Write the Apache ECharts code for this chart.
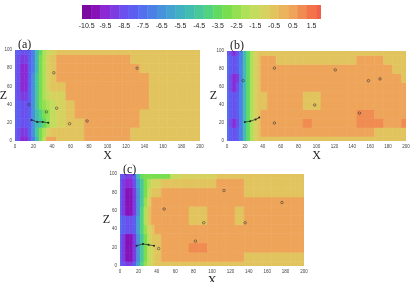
<!DOCTYPE html>
<html><head><meta charset="utf-8">
<script src="https://cdn.jsdelivr.net/npm/echarts@6/dist/echarts.min.js"></script>
<style>html,body{margin:0;padding:0;background:#fff}#c{width:410px;height:282px}</style>
</head><body><div id="c"></div>
<script>
// ---- data ----
const xCols = [0,4,8,12,16,20,24,28,32,36,40,50,60,70,80,90,100,110,120,130,140,150,160,170,180,190,200];
const zRows = [0,10,20,30,40,50,60,70,80,90,100];
const levelCenters = [-10.5,-10,-9.5,-9,-8.5,-8,-7.5,-7,-6.5,-6,-5.5,-5,-4.5,-4,-3.5,-3,-2.5,-2,-1.5,-1,-0.5,0,0.5,1,1.5,2];
const levelColors = ['#7a0aa0','#8612b8','#8c28d4','#7c3ce0','#6a50ee','#5c5ef2','#5470ee','#4d80e6','#4892dc','#44a2d0','#40b0c2','#42bcb0','#48c89a','#52d280','#62da62','#78de50','#94e052','#aee058','#c4dc5e','#d6d260','#e2c45e','#eab45c','#eea55a','#f08c52','#f27448','#f2604a'];
const colorbarTicks = [-10.5,-9.5,-8.5,-7.5,-6.5,-5.5,-4.5,-3.5,-2.5,-1.5,-0.5,0.5,1.5];

const fieldA = [
 [-8,-8.5,-9.5,-9.5,-8.5,-7,-5,-3,-1.5,0.5,0.5,-0.5,-0.5,-0.5,0.5,0.5,0.5,0.5,0.5,-0.5,-0.5,-0.5,-0.5,-0.5,-0.5,-0.5,-0.5],
 [-8,-8.5,-9,-9,-8,-6.5,-4.5,-3,-2,-1,-0.5,-0.5,-0.5,-0.5,0.5,0.5,0.5,0.5,0.5,-0.5,-0.5,-0.5,-0.5,-0.5,-0.5,-0.5,-0.5],
 [-8,-8,-8.5,-8.5,-8,-6.5,-5,-4.5,-3.5,-2.5,-1.5,-1,-0.5,-0.5,0.5,0.5,0.5,0.5,0.5,0.5,-0.5,-0.5,-0.5,-0.5,-0.5,-0.5,-0.5],
 [-8,-8,-8.5,-8.5,-8,-6.5,-5,-4,-3,-2.5,-1.5,-1,-0.5,0.5,0.5,0.5,0.5,0.5,0.5,0.5,-0.5,-0.5,-0.5,-0.5,-0.5,-0.5,-0.5],
 [-8,-8,-8.5,-8.5,-8,-6.5,-4.5,-3,-2.5,-2,-1.5,-1,-0.5,0.5,0.5,0.5,0.5,0.5,0.5,0.5,0.5,-0.5,-0.5,-0.5,-0.5,-0.5,-0.5],
 [-8,-8.5,-9,-9,-8,-6.5,-4.5,-3,-2,-1.5,-1,-1,0.5,0.5,0.5,0.5,0.5,0.5,0.5,0.5,0.5,-0.5,-0.5,-0.5,-0.5,-0.5,-0.5],
 [-8,-8.5,-9.5,-9.5,-8,-6.5,-4.5,-3,-2,-1,-0.5,-0.5,0.5,0.5,0.5,0.5,0.5,0.5,0.5,0.5,0.5,-0.5,-0.5,-0.5,-0.5,-0.5,-0.5],
 [-8,-8.5,-9.5,-9.5,-8,-6.5,-4.5,-3,-2,-1,-0.5,0.5,0.5,0.5,0.5,0.5,0.5,0.5,0.5,0.5,0.5,-0.5,-0.5,-0.5,-0.5,-0.5,-0.5],
 [-8,-8.5,-9.5,-9.5,-8,-7,-5,-3,-2,-1,-0.5,0.5,0.5,0.5,0.5,0.5,0.5,0.5,0.5,0.5,-0.5,-0.5,-0.5,-0.5,-0.5,-0.5,-0.5],
 [-8,-8.5,-9,-9,-8,-7,-5,-3,-2,-1,-0.5,0.5,0.5,0.5,0.5,0.5,0.5,0.5,0.5,-0.5,-0.5,-0.5,-0.5,-0.5,-0.5,-0.5,-0.5],
 [-8,-8,-8.5,-8.5,-8,-7,-5,-3.5,-2,-1.5,-1,-0.5,-0.5,-0.5,-0.5,-0.5,-0.5,-0.5,-0.5,-0.5,-0.5,-0.5,-0.5,-0.5,-0.5,-0.5,-0.5]
];
const fieldB = [
 [-7.5,-8,-8.5,-8,-7,-5,-3.5,-2,-1,-0.5,-0.5,-0.5,-0.5,-0.5,-0.5,-0.5,-0.5,-0.5,-0.5,-0.5,-0.5,-0.5,-0.5,-0.5,-0.5,-0.5,-0.5],
 [-7.5,-8,-8.5,-8,-7,-5,-3.5,-2,-1,-0.5,0.5,0.5,0.5,0.5,0.5,0.5,0.5,0.5,0.5,0.5,0.5,0.5,0.5,-0.5,-0.5,-0.5,-0.5],
 [-7.5,-8.5,-9.5,-8.5,-7,-5,-3.5,-2,-1,-0.5,0.5,0.5,0.5,0.5,0.5,1,0.5,0.5,0.5,0.5,0.5,1,1,1,0.5,0.5,1],
 [-7.5,-8,-8.5,-8,-7,-5,-3.5,-2,-1,-0.5,0.5,0.5,0.5,0.5,0.5,0.5,0.5,0.5,0.5,0.5,0.5,1,1,0.5,0.5,0.5,0.5],
 [-7.5,-8,-8.5,-8,-7,-5,-3.5,-2,-1,-0.5,-0.5,0.5,0.5,0.5,0.5,-0.5,-0.5,0.5,0.5,0.5,0.5,0.5,0.5,0.5,0.5,0.5,0.5],
 [-7.5,-8,-8.5,-8,-7,-5,-3.5,-2,-1,-0.5,-0.5,0.5,0.5,0.5,0.5,-0.5,-0.5,0.5,0.5,0.5,0.5,0.5,0.5,0.5,0.5,0.5,0.5],
 [-7.5,-8.5,-9.5,-8.5,-7,-5,-3.5,-2,-1,-0.5,0.5,0.5,0.5,0.5,0.5,0.5,0.5,0.5,0.5,0.5,0.5,0.5,0.5,0.5,0.5,0.5,0.5],
 [-7.5,-8.5,-9.5,-9,-7,-5,-3.5,-2,-1,-0.5,0.5,0.5,0.5,0.5,0.5,0.5,0.5,0.5,0.5,0.5,0.5,0.5,0.5,0.5,0.5,0.5,-0.5],
 [-7.5,-8,-8.5,-8,-7,-5,-3.5,-2,-1,-0.5,0.5,0.5,0.5,0.5,0.5,0.5,0.5,0.5,0.5,0.5,0.5,0.5,0.5,0.5,0.5,-0.5,-0.5],
 [-7.5,-8,-8.5,-8,-7,-5,-3.5,-2,-1,-0.5,0.5,0.5,-0.5,-0.5,-0.5,-0.5,-0.5,-0.5,-0.5,-0.5,-0.5,0.5,0.5,0.5,-0.5,-0.5,-0.5],
 [-8,-8.5,-9.5,-8.5,-7,-5,-3.5,-2,-1,-0.5,-0.5,-0.5,-0.5,-0.5,-0.5,-0.5,-0.5,-0.5,-0.5,-0.5,-0.5,-0.5,-0.5,-0.5,-0.5,-0.5,-0.5]
];
const fieldC = [
 [-8,-8.5,-9,-9,-8,-6,-4,-2.5,-1.5,-1,-0.5,-0.5,-0.5,-0.5,-0.5,-0.5,-0.5,-0.5,-0.5,-0.5,-0.5,-0.5,-0.5,-0.5,-0.5,-0.5,-0.5],
 [-8,-9,-10,-10,-9,-6.5,-4.5,-3,-1.5,-1,-0.5,0.5,0.5,0.5,0.5,0.5,0.5,0.5,0.5,0.5,-0.5,-0.5,-0.5,-0.5,-0.5,-0.5,-0.5],
 [-8,-9,-10,-10,-9,-6.5,-4.5,-3,-1.5,-1,-0.5,0.5,0.5,0.5,1,1,0.5,0.5,0.5,0.5,0.5,0.5,0.5,0.5,0.5,0.5,0.5],
 [-8,-9,-10,-10,-9,-6.5,-4.5,-3,-1.5,-0.5,-0.5,0.5,0.5,0.5,0.5,0.5,0.5,0.5,0.5,0.5,0.5,0.5,0.5,0.5,0.5,0.5,0.5],
 [-7.5,-8,-8.5,-8.5,-8,-6,-4,-2.5,-1,-0.5,0.5,0.5,0.5,0.5,0.5,0.5,0.5,0.5,0.5,0.5,0.5,0.5,0.5,0.5,0.5,0.5,0.5],
 [-7.5,-8,-8.5,-8.5,-8,-6,-4,-2,-0.5,0.5,0.5,0.5,0.5,0.5,-0.5,-0.5,0.5,0.5,0.5,-0.5,0.5,0.5,0.5,0.5,0.5,0.5,0.5],
 [-8,-9,-10,-10,-9,-6.5,-4,-2,-0.5,0.5,0.5,0.5,0.5,0.5,-0.5,-0.5,0.5,0.5,0.5,-0.5,0.5,0.5,0.5,0.5,0.5,0.5,0.5],
 [-8,-9,-10,-10,-9,-6.5,-4.5,-2.5,-1,0.5,0.5,0.5,0.5,0.5,0.5,0.5,0.5,0.5,0.5,0.5,0.5,0.5,0.5,0.5,0.5,0.5,0.5],
 [-8,-9,-10,-10,-9,-6.5,-4.5,-3,-1.5,-0.5,-0.5,0.5,0.5,0.5,0.5,0.5,0.5,0.5,0.5,0.5,-0.5,-0.5,-0.5,-0.5,-0.5,-0.5,-0.5],
 [-8,-9,-9.5,-9.5,-8.5,-6,-4.5,-3,-2,-1,-1,-0.5,-0.5,-0.5,-0.5,-0.5,-0.5,0.5,0.5,0.5,-0.5,-0.5,-0.5,-0.5,-0.5,-0.5,-0.5],
 [-8,-8.5,-9,-9,-8,-5,-3.5,-3,-3,-3,-3,-3,-1.5,-1,-1,-1,-1,-0.5,-0.5,-0.5,-0.5,-0.5,-0.5,-0.5,-0.5,-0.5,-0.5]
];

const marksA = [[42,75],[132,80],[34,32],[45,36],[59,19],[78,22],[15,40]];
const trailA = [[18,23],[24,21],[30,21],[36,20]];
const marksB = [[53,81],[121,79],[158,67],[171,69],[98,40],[148,31],[53,20],[18,67]];
const trailB = [[20,21],[26,22],[32,24],[36,26]];
const marksC = [[48,62],[113,82],[176,69],[91,47],[136,47],[82,27],[42,19]];
const trailC = [[18,22],[25,24],[31,23],[37,22]];

// ---- helpers ----
function colorOf(v){
  let best = 0, bd = Infinity;
  levelCenters.forEach((c,i)=>{ const d = Math.abs(c-v); if(d<bd){bd=d;best=i;} });
  return levelColors[best];
}
function edges(arr){
  return arr.map((v,i)=>[
    i===0 ? v : (arr[i-1]+v)/2,
    i===arr.length-1 ? v : (v+arr[i+1])/2
  ]);
}
const xE = edges(xCols), zE = edges(zRows);
function cells(field){
  const out = [];
  field.forEach((row,j)=>row.forEach((v,i)=>{
    out.push([xE[i][0], xE[i][1], zE[j][0], zE[j][1], v]);
  }));
  return out;
}
function renderCell(params, api){
  const p0 = api.coord([api.value(0), api.value(3)]);
  const p1 = api.coord([api.value(1), api.value(2)]);
  const c = colorOf(api.value(4));
  return {type:'rect', shape:{x:p0[0], y:p0[1], width:p1[0]-p0[0], height:p1[1]-p0[1]},
          style:{fill:c, stroke:c, lineWidth:0.6}};
}
const cbData = levelCenters.map(c=>[c-0.25, c+0.25, c]);
function renderBand(params, api){
  const p0 = api.coord([api.value(0), 1]);
  const p1 = api.coord([api.value(1), 0]);
  const c = colorOf(api.value(2));
  return {type:'rect', shape:{x:p0[0], y:p0[1], width:p1[0]-p0[0], height:p1[1]-p0[1]},
          style:{fill:c, stroke:c, lineWidth:0.5}};
}

const gridBase = {containLabel:false, outerBoundsMode:'none'};
const grids = [
  Object.assign({left:15, top:50, width:185, height:91}, gridBase),
  Object.assign({left:227, top:51, width:179, height:90}, gridBase),
  Object.assign({left:120, top:174, width:184, height:92}, gridBase),
  Object.assign({left:82, top:5, width:239, height:14}, gridBase)
];
const serif = 'Liberation Serif';
function xAx(g){
  return {type:'value', gridIndex:g, min:0, max:200, interval:20,
    name:'X', nameLocation:'middle', nameGap:9, nameMoveOverlap:false,
    nameTextStyle:{fontFamily:serif, fontSize:12, color:'#222'},
    axisLine:{show:false}, axisTick:{show:false}, splitLine:{show:false},
    axisLabel:{fontSize:4.5, color:'#444', margin:3, fontFamily:'Liberation Sans'}};
}
function yAx(g, gap){
  return {type:'value', gridIndex:g, min:0, max:100, interval:20,
    name:'Z', nameLocation:'middle', nameGap:gap, nameRotate:0, nameMoveOverlap:false,
    nameTextStyle:{fontFamily:serif, fontSize:12, color:'#222'},
    axisLine:{show:false}, axisTick:{show:false}, splitLine:{show:false},
    axisLabel:{fontSize:4.5, color:'#444', margin:3, fontFamily:'Liberation Sans'}};
}
const fields = [fieldA, fieldB, fieldC];
const marks = [marksA, marksB, marksC];
const trails = [trailA, trailB, trailC];
const series = [];
fields.forEach((f,g)=>{
  series.push({type:'custom', xAxisIndex:g, yAxisIndex:g, renderItem:renderCell, data:cells(f), clip:true, silent:true});
  series.push({type:'line', xAxisIndex:g, yAxisIndex:g, data:trails[g], symbol:'circle', symbolSize:2,
    lineStyle:{color:'#222', width:0.7}, itemStyle:{color:'#222'}, silent:true, animation:false});
  series.push({type:'scatter', xAxisIndex:g, yAxisIndex:g, data:marks[g], symbol:'circle', symbolSize:2.5,
    itemStyle:{color:'rgba(0,0,0,0)', borderColor:'#333', borderWidth:0.7}, silent:true});
});
series.push({type:'custom', xAxisIndex:3, yAxisIndex:3, renderItem:renderBand, data:cbData, clip:true, silent:true});

const chart = echarts.init(document.getElementById('c'), null, {renderer:'canvas'});
chart.setOption({
  animation:false,
  backgroundColor:'#fff',
  title:[
    {text:'(a)', left:13, top:34, textStyle:{fontFamily:serif, fontSize:12, fontWeight:'normal', color:'#222'}},
    {text:'(b)', left:225, top:35, textStyle:{fontFamily:serif, fontSize:12, fontWeight:'normal', color:'#222'}},
    {text:'(c)', left:118, top:159, textStyle:{fontFamily:serif, fontSize:12, fontWeight:'normal', color:'#222'}}
  ],
  grid:grids,
  xAxis:[xAx(0), xAx(1), xAx(2),
    {type:'value', gridIndex:3, min:-10.75, max:2, position:'bottom',
     axisLine:{show:false}, axisTick:{show:false}, splitLine:{show:false},
     axisLabel:{customValues:colorbarTicks, fontSize:7, color:'#222', margin:4, fontFamily:'Liberation Sans',
       formatter:v=>String(v)}}],
  yAxis:[yAx(0, 8), yAx(1, 10), yAx(2, 10),
    {type:'value', gridIndex:3, min:0, max:1, show:false}],
  series:series
});
</script></body></html>
